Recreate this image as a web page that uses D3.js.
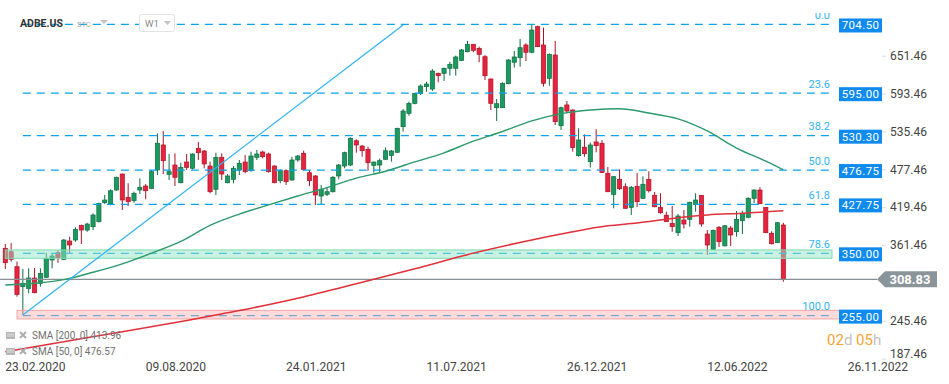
<!DOCTYPE html>
<html>
<head>
<meta charset="utf-8">
<script src="https://cdn.jsdelivr.net/npm/d3@7"></script>
<style>
  html, body { margin: 0; padding: 0; background: #fff; }
  svg { display: block; font-family: Roboto, "Open Sans", sans-serif; }
</style>
</head>
<body>
<svg id="chart" width="949" height="384"></svg>
<script>
/* Chart data (weekly candles, index 0 = week of 23.02.2020)
--------------------------------------------------- */
const symbol = 'ADBE.US';
const interval = 'W1';

// [open, high, low, close]
const ohlc = [
  [356.4, 363.0, 324.7, 334.3], [351.2, 364.5, 335.9, 339.6], [328.2, 336.2, 282.3, 285.6], [297.6, 324.7, 254.2, 302.8],
  [295.1, 325.8, 287.5, 310.9], [310.9, 326.2, 287.5, 288.4], [302.8, 325.8, 297.6, 318.1], [312.0, 349.7, 311.0, 341.1],
  [338.5, 347.7, 325.8, 344.6], [349.7, 353.8, 334.3, 342.0], [339.6, 370.7, 338.5, 369.1], [367.6, 374.2, 347.7, 361.5],
  [369.1, 388.6, 366.5, 385.5], [391.6, 392.6, 363.0, 384.4], [384.4, 395.6, 381.8, 393.6], [389.5, 410.0, 384.4, 407.4],
  [397.2, 426.3, 396.0, 425.3], [426.3, 438.1, 424.3, 430.4], [424.3, 446.8, 422.3, 444.6], [445.7, 466.1, 444.6, 465.2],
  [470.2, 471.0, 415.1, 430.4], [434.5, 456.0, 421.2, 427.8], [429.3, 443.1, 426.3, 440.7], [445.7, 463.6, 439.6, 449.9],
  [451.8, 454.9, 431.5, 444.6], [448.3, 476.4, 447.0, 473.8], [476.4, 532.6, 468.7, 517.3], [514.7, 536.1, 470.2, 490.6],
  [469.8, 500.9, 461.0, 473.8], [484.0, 501.9, 451.8, 465.2], [456.9, 487.5, 456.0, 480.5], [488.6, 500.9, 476.4, 480.5],
  [479.0, 501.9, 477.4, 500.9], [509.6, 519.3, 491.7, 502.9], [505.5, 507.0, 479.0, 485.6], [482.5, 489.1, 440.7, 443.1],
  [446.8, 502.9, 438.1, 495.8], [495.8, 501.9, 461.0, 470.2], [456.9, 470.2, 456.0, 467.2], [462.1, 482.5, 456.0, 479.0],
  [476.4, 491.7, 468.7, 486.6], [488.6, 499.3, 471.3, 473.8], [475.3, 504.4, 473.8, 497.8], [495.8, 507.0, 491.7, 500.9],
  [503.9, 505.9, 494.3, 496.7], [500.9, 502.9, 472.2, 473.8], [482.5, 483.5, 456.0, 456.9], [460.0, 477.4, 456.0, 475.3],
  [475.3, 477.4, 453.4, 458.4], [461.0, 496.7, 460.0, 491.7], [491.7, 499.3, 489.1, 497.8], [501.9, 505.9, 475.3, 477.4],
  [472.2, 476.4, 451.8, 460.0], [467.2, 468.7, 422.7, 438.1], [436.5, 453.4, 422.7, 446.8], [439.1, 449.9, 436.5, 443.1],
  [443.1, 467.2, 441.9, 465.2], [467.2, 485.6, 462.1, 484.0], [482.5, 504.4, 479.0, 502.9], [484.0, 526.4, 482.5, 524.9],
  [521.2, 523.4, 502.9, 514.7], [513.1, 514.7, 496.7, 505.9], [508.1, 512.1, 475.3, 487.5], [483.5, 489.1, 472.2, 488.6],
  [484.0, 494.0, 473.0, 490.6], [492.8, 511.1, 491.7, 505.9], [498.6, 507.0, 489.1, 505.5], [503.5, 541.2, 502.4, 540.2],
  [542.7, 569.8, 535.0, 566.7], [563.2, 581.0, 559.5, 578.5], [578.5, 594.3, 577.0, 593.9], [593.9, 607.7, 591.3, 605.0],
  [604.0, 611.6, 596.3, 608.1], [600.4, 631.1, 597.4, 628.0], [624.5, 625.5, 610.7, 620.8], [624.5, 633.1, 612.7, 632.2],
  [632.2, 642.3, 620.8, 638.3], [632.2, 651.5, 620.8, 649.5], [644.4, 661.7, 643.3, 660.2], [657.6, 674.0, 656.7, 668.9],
  [668.9, 669.5, 656.7, 659.7], [662.8, 665.3, 641.4, 653.6], [649.9, 652.5, 614.2, 620.8], [615.8, 616.5, 568.3, 578.5],
  [571.8, 585.1, 551.4, 577.9], [571.8, 610.7, 571.3, 609.2], [608.6, 646.0, 607.7, 644.9], [641.4, 658.7, 633.1, 649.5],
  [648.4, 677.1, 634.6, 663.7], [667.9, 670.5, 643.3, 656.7], [656.7, 699.5, 655.1, 690.8], [695.9, 697.5, 664.8, 665.3],
  [667.9, 694.4, 604.0, 609.2], [616.8, 655.1, 605.5, 653.6], [652.5, 674.0, 545.3, 550.4], [544.2, 573.3, 537.6, 571.8],
  [576.0, 582.1, 563.2, 566.7], [568.3, 569.3, 504.4, 510.8], [498.3, 540.2, 496.7, 522.3], [511.3, 531.0, 496.7, 501.3],
  [489.1, 518.5, 480.2, 514.7], [519.3, 538.9, 503.5, 513.6], [517.3, 522.3, 472.0, 472.5], [471.3, 481.0, 442.5, 443.1],
  [439.1, 467.2, 417.7, 466.1], [462.1, 477.4, 445.7, 447.7], [450.8, 456.0, 417.2, 417.7], [419.2, 451.8, 407.4, 449.9],
  [451.4, 471.8, 419.7, 427.8], [433.0, 466.7, 432.5, 454.5], [462.1, 474.4, 441.9, 444.6], [437.6, 442.7, 419.2, 420.1],
  [419.2, 440.7, 409.4, 410.9], [407.1, 412.5, 396.7, 397.2], [394.7, 421.2, 381.8, 389.5], [380.3, 409.0, 375.2, 405.9],
  [399.8, 415.1, 386.7, 393.6], [400.8, 427.6, 389.5, 427.0], [423.5, 440.7, 412.5, 430.4], [437.6, 438.0, 389.8, 393.6],
  [378.3, 384.4, 346.1, 361.5], [354.4, 385.0, 353.8, 384.0], [388.6, 390.6, 358.4, 366.5], [360.2, 392.1, 359.2, 390.9],
  [387.5, 390.6, 359.9, 376.8], [381.8, 413.5, 374.2, 400.8], [398.7, 414.0, 378.3, 410.0], [403.9, 434.5, 402.4, 433.0],
  [433.0, 446.8, 425.8, 445.7], [445.7, 449.9, 424.3, 424.7], [419.2, 419.7, 380.0, 380.3], [379.4, 382.6, 362.2, 363.4],
  [365.0, 396.7, 364.5, 395.6], [392.1, 395.6, 305.2, 308.83],
];

// moving averages: [week index, value]
const sma50 = [
  [0, 300.2], [5, 302.8], [10, 308.5], [15, 319.7], [20, 332.6], [25, 348.9], [30, 367.0], [35, 391.5],
  [40, 408.7], [45, 422.9], [50, 436.5], [55, 449.3], [60, 464.0], [65, 474.5], [70, 488.7], [75, 502.7],
  [80, 520.5], [85, 535.4], [90, 551.5], [95, 562.7], [100, 568.3], [105, 570.3], [110, 563.6], [115, 554.7],
  [120, 536.2], [125, 510.0], [130, 489.8], [133, 476.57],
];
const sma200 = [
  [0, 198.0], [10, 213.3], [20, 228.6], [32, 247.5], [40, 261.0], [50, 280.0], [60, 302.0], [70, 325.0],
  [80, 349.0], [91, 371.0], [97, 381.8], [103, 390.8], [108, 395.3], [114, 402.2], [120, 407.5], [126, 410.2],
  [133, 413.96],
];

// fibonacci retracement between the 2020 low and the 2021 high
const fibAnchors = [699.3, 253.3];
const fibLevels = [0, 23.6, 38.2, 50, 61.8, 78.6, 100];
const fibNames = ['0.0', '23.6', '38.2', '50.0', '61.8', '78.6', '100.0'];
const fibTags = ['704.50', '595.00', '530.30', '476.75', '427.75', '350.00', '255.00'];

const trendLine = [[3, 254.2], [68, 698.5]];
const supportZone = [341.1, 353.9];
const lowZone = [248.2, 261.4];
const lastPrice = 308.83;

const yTicks = [187.46, 245.46, 303.46, 361.46, 419.46, 477.46, 535.46, 593.46, 651.46].filter(v => v !== 303.46);
const dateTicks = [0, 24, 48, 72, 96, 120, 144];
const dateLabels = ['23.02.2020', '09.08.2020', '24.01.2021', '11.07.2021', '26.12.2021', '12.06.2022', '26.11.2022'];

/* Layout and scales
--------------------------------------------------- */
const plotRight = 882;
const fibRight = 832;
const green = '#1b9a5f', greenDark = '#0f6b40';
const red = '#e8233d', redDark = '#a71428';
const fibBlue = '#0aa2ee';

const svg = d3.select('#chart');
const x = d3.scaleLinear().domain([0, 144]).range([5.3, 847.7]);
const y = d3.scaleLinear().domain([187.46, 651.46]).range([358.6, 55.7]);

svg.append('defs').append('clipPath').attr('id', 'plot')
  .append('rect').attr('x', 0).attr('y', 13).attr('width', plotRight).attr('height', 350);

const plot = svg.append('g').attr('clip-path', 'url(#plot)');

/* Candles
--------------------------------------------------- */
const candles = plot.append('g')
  .selectAll('g')
  .data(ohlc)
  .enter()
  .append('g');

candles.append('line')
  .attr('x1', (d, i) => x(i)).attr('x2', (d, i) => x(i))
  .attr('y1', d => y(d[1])).attr('y2', d => y(d[2]))
  .attr('stroke', d => (d[3] >= d[0] ? greenDark : redDark))
  .attr('stroke-width', 1);

candles.append('rect')
  .attr('x', (d, i) => x(i) - 2.1)
  .attr('width', 4.2)
  .attr('y', d => y(Math.max(d[0], d[3])))
  .attr('height', d => Math.max(1, Math.abs(y(d[0]) - y(d[3]))))
  .attr('fill', d => (d[3] >= d[0] ? green : red))
  .attr('stroke', d => (d[3] >= d[0] ? greenDark : redDark))
  .attr('stroke-width', 0.7);

/* Fibonacci levels
--------------------------------------------------- */
const fibPrice = lvl => fibAnchors[0] - ((fibAnchors[0] - fibAnchors[1]) * lvl) / 100;

plot.append('g')
  .selectAll('line')
  .data(fibLevels)
  .enter()
  .append('line')
  .attr('x1', x(trendLine[0][0]))
  .attr('x2', fibRight)
  .attr('y1', d => y(fibPrice(d)))
  .attr('y2', d => y(fibPrice(d)))
  .attr('stroke', fibBlue)
  .attr('stroke-width', 1.2)
  .attr('stroke-dasharray', '8,6');

/* Zones
--------------------------------------------------- */
plot.append('rect')
  .attr('x', x(0)).attr('width', fibRight - x(0))
  .attr('y', y(supportZone[1])).attr('height', y(supportZone[0]) - y(supportZone[1]))
  .attr('fill', 'rgb(150,230,200)').attr('fill-opacity', 0.5)
  .attr('stroke', '#7fd9b2').attr('stroke-width', 1);

plot.append('rect')
  .attr('x', x(2)).attr('width', 843 - x(2))
  .attr('y', y(lowZone[1])).attr('height', y(lowZone[0]) - y(lowZone[1]))
  .attr('fill', 'rgb(250,175,175)').attr('fill-opacity', 0.45)
  .attr('stroke', '#f3a5a5').attr('stroke-width', 1);

/* Current price line
--------------------------------------------------- */
plot.append('line')
  .attr('x1', 0).attr('x2', 877)
  .attr('y1', y(lastPrice)).attr('y2', y(lastPrice))
  .attr('stroke', '#858f94').attr('stroke-width', 1.2);

/* Moving averages and trend line
--------------------------------------------------- */
const smaLine = d3.line()
  .curve(d3.curveMonotoneX)
  .x(d => x(d[0]))
  .y(d => y(d[1]));

plot.append('path').datum(sma200).attr('d', smaLine)
  .attr('fill', 'none').attr('stroke', '#e0303a').attr('stroke-width', 1.5);

plot.append('path').datum(sma50).attr('d', smaLine)
  .attr('fill', 'none').attr('stroke', '#2c9a6b').attr('stroke-width', 1.4);

plot.append('line')
  .attr('x1', x(trendLine[0][0])).attr('y1', y(trendLine[0][1]))
  .attr('x2', x(trendLine[1][0])).attr('y2', y(trendLine[1][1]))
  .attr('stroke', '#33b5f5').attr('stroke-width', 1.3);

/* Fib labels and price tags
--------------------------------------------------- */
plot.append('g')
  .selectAll('text')
  .data(fibLevels)
  .enter()
  .append('text')
  .attr('x', 830)
  .attr('y', d => y(fibPrice(d)) - 5.5)
  .attr('text-anchor', 'end')
  .attr('fill', '#2eb4f2')
  .attr('font-size', 11)
  .text((d, i) => fibNames[i]);

const tags = svg.append('g')
  .selectAll('g')
  .data(fibLevels)
  .enter()
  .append('g')
  .attr('transform', d => `translate(839,${y(fibPrice(d)) + 1})`);

tags.append('rect')
  .attr('x', 0).attr('y', -7).attr('width', 43).attr('height', 14)
  .attr('fill', '#0f8bf0');

tags.append('text')
  .attr('x', 21.5).attr('y', 4)
  .attr('text-anchor', 'middle')
  .attr('fill', '#fff')
  .attr('font-size', 11.5)
  .attr('letter-spacing', 0.4)
  .text((d, i) => fibTags[i]);

/* Right axis
--------------------------------------------------- */
const yAxis = svg.append('g')
  .attr('transform', `translate(${plotRight},0)`)
  .call(d3.axisRight(y).tickValues(yTicks).tickSize(4).tickPadding(4).tickFormat(d3.format('.2f')));

yAxis.select('.domain').remove();
yAxis.selectAll('.tick line').attr('stroke', '#dcdcdc');
yAxis.selectAll('.tick text')
  .attr('fill', '#444')
  .attr('font-size', 12)
  .attr('font-family', 'Roboto, sans-serif')
  .attr('dy', d => (d === yTicks[0] ? '-0.1em' : '0.32em'));

// last price tag
const py = y(lastPrice);
svg.append('path')
  .attr('d', `M877,${py} L885,${py - 8} L937,${py - 8} L937,${py + 8} L885,${py + 8} Z`)
  .attr('fill', '#8a959a');
svg.append('text')
  .attr('x', 910).attr('y', py + 4.5)
  .attr('text-anchor', 'middle')
  .attr('fill', '#fff')
  .attr('font-size', 13)
  .attr('font-weight', 'bold')
  .text(lastPrice.toFixed(2));

/* Bottom axis
--------------------------------------------------- */
svg.append('g')
  .selectAll('text')
  .data(dateTicks)
  .enter()
  .append('text')
  .attr('x', d => x(d))
  .attr('y', 371)
  .attr('fill', '#444')
  .attr('font-size', 12)
  .text((d, i) => dateLabels[i]);

/* Countdown
--------------------------------------------------- */
const countdown = svg.append('text').attr('x', 827).attr('y', 345).attr('font-size', 15);
[['02', '#f6a433'], ['d ', '#c2c2c2'], ['05', '#f6a433'], ['h', '#c2c2c2']].forEach(part =>
  countdown.append('tspan').attr('fill', part[1]).text(part[0]),
);

/* Legend
--------------------------------------------------- */
const legend = svg.append('g')
  .selectAll('g')
  .data([['SMA [200, 0]', sma200], ['SMA [50, 0]', sma50]])
  .enter()
  .append('g')
  .attr('transform', (d, i) => `translate(6,${339 + i * 16})`);

legend.append('rect').attr('x', 0).attr('y', -7).attr('width', 9).attr('height', 7).attr('fill', '#b5b5b5');
legend.append('path').attr('d', 'M1,-5 H8 M1,-3 H8').attr('stroke', '#eee').attr('stroke-width', 0.8);
legend.append('path').attr('d', 'M14,-7 L20,-1 M20,-7 L14,-1').attr('stroke', '#aaa').attr('stroke-width', 1.8);
legend.append('text')
  .attr('x', 26).attr('y', 0)
  .attr('fill', '#707070')
  .attr('font-size', 10)
  .text(d => `${d[0]} ${d[1][d[1].length - 1][1].toFixed(2)}`);

/* Header
--------------------------------------------------- */
const header = svg.append('g');
header.append('text').attr('x', 20).attr('y', 27).attr('font-size', 10.5).attr('font-weight', 'bold').attr('fill', '#333').text(symbol);
header.append('text').attr('x', 77).attr('y', 27).attr('font-size', 7.5).attr('fill', '#aaa').text('STC');
header.append('path').attr('d', 'M100,20 L108,20 L104,24 Z').attr('fill', '#c4c4c4');
header.append('rect').attr('x', 139.5).attr('y', 14.5).attr('width', 35).attr('height', 17).attr('rx', 2)
  .attr('fill', '#fff').attr('stroke', '#e2e2e2');
header.append('text').attr('x', 145).attr('y', 27).attr('font-size', 9.5).attr('fill', '#888').text(interval);
header.append('path').attr('d', 'M164,21 L171,21 L167.5,25 Z').attr('fill', '#c4c4c4');
</script>
</body>
</html>
